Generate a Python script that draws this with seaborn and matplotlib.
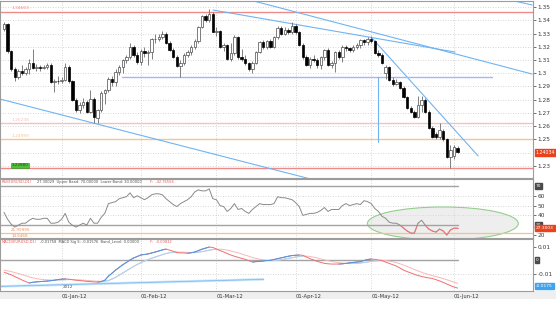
import numpy as np
import pandas as pd
import matplotlib
matplotlib.use("Agg")
import matplotlib.pyplot as plt
import seaborn as sns
from matplotlib.patches import Ellipse, Rectangle

sns.set_theme(style="white")
plt.rcParams['font.family'] = ['DejaVu Sans']

# ---------------- data ----------------
dates = pd.bdate_range("2011-12-09", "2012-06-04")

opens = [1.3335, 1.3370, 1.3165, 1.3035, 1.2975, 1.3015, 1.3000, 1.3035, 1.3075, 1.3040,
         1.3045, 1.3040, 1.3048, 1.3065, 1.2935, 1.2945, 1.2940, 1.2950, 1.3050, 1.2940,
         1.2800, 1.2720, 1.2760, 1.2785, 1.2710, 1.2805, 1.2660, 1.2720, 1.2850, 1.2870,
         1.2960, 1.2935, 1.3010, 1.3045, 1.3100, 1.3120, 1.3200, 1.3140, 1.3085, 1.3165,
         1.3150, 1.3160, 1.3255, 1.3260, 1.3275, 1.3300, 1.3230, 1.3175, 1.3125, 1.3055,
         1.3080, 1.3140, 1.3160, 1.3200, 1.3240, 1.3350, 1.3430, 1.3400, 1.3450, 1.3315,
         1.3320, 1.3200, 1.3210, 1.3110, 1.3150, 1.3270, 1.3120, 1.3105, 1.3075, 1.3030,
         1.3080, 1.3160, 1.3235, 1.3195, 1.3240, 1.3200, 1.3270, 1.3345, 1.3300, 1.3330,
         1.3310, 1.3360, 1.3310, 1.3215, 1.3120, 1.3065, 1.3110, 1.3100, 1.3065, 1.3120,
         1.3175, 1.3065, 1.3080, 1.3160, 1.3125, 1.3195, 1.3190, 1.3175, 1.3195, 1.3210,
         1.3250, 1.3235, 1.3260, 1.3240, 1.3155, 1.3140, 1.3000, 1.3045, 1.2950, 1.2920,
         1.2935, 1.2890, 1.2820, 1.2740, 1.2710, 1.2670, 1.2760, 1.2800, 1.2710, 1.2590,
         1.2545, 1.2520, 1.2565, 1.2500, 1.2370, 1.2375, 1.2437]
highs = [1.3385, 1.3378, 1.3172, 1.3045, 1.3030, 1.3060, 1.3050, 1.3110, 1.3185, 1.3070,
         1.3065, 1.3060, 1.3080, 1.3075, 1.2960, 1.2980, 1.2975, 1.3075, 1.3060, 1.2950,
         1.2810, 1.2780, 1.2810, 1.2795, 1.2875, 1.2820, 1.2730, 1.2865, 1.2880, 1.2975,
         1.2980, 1.3030, 1.3060, 1.3110, 1.3140, 1.3230, 1.3215, 1.3160, 1.3185, 1.3200,
         1.3175, 1.3265, 1.3300, 1.3295, 1.3320, 1.3310, 1.3245, 1.3190, 1.3140, 1.3100,
         1.3150, 1.3175, 1.3215, 1.3260, 1.3360, 1.3440, 1.3445, 1.3486, 1.3465, 1.3350,
         1.3330, 1.3225, 1.3220, 1.3230, 1.3285, 1.3280, 1.3180, 1.3135, 1.3085, 1.3090,
         1.3170, 1.3245, 1.3250, 1.3250, 1.3255, 1.3280, 1.3355, 1.3360, 1.3350, 1.3345,
         1.3385, 1.3370, 1.3320, 1.3225, 1.3135, 1.3120, 1.3135, 1.3115, 1.3130, 1.3185,
         1.3190, 1.3090, 1.3170, 1.3175, 1.3210, 1.3215, 1.3200, 1.3210, 1.3225, 1.3255,
         1.3260, 1.3270, 1.3282, 1.3250, 1.3175, 1.3155, 1.3060, 1.3055, 1.2975, 1.2955,
         1.2945, 1.2900, 1.2830, 1.2750, 1.2720, 1.2825, 1.2825, 1.2815, 1.2720, 1.2600,
         1.2560, 1.2625, 1.2580, 1.2510, 1.2455, 1.2460, 1.2450]
lows = [1.3320, 1.3155, 1.3020, 1.2945, 1.2960, 1.2990, 1.2985, 1.2995, 1.3030, 1.3020,
        1.3020, 1.3030, 1.3035, 1.2925, 1.2858, 1.2920, 1.2925, 1.2940, 1.2930, 1.2790,
        1.2710, 1.2700, 1.2740, 1.2700, 1.2700, 1.2625, 1.2625, 1.2710, 1.2765, 1.2860,
        1.2900, 1.2900, 1.2990, 1.3000, 1.3080, 1.3110, 1.3120, 1.3070, 1.3060, 1.3120,
        1.3060, 1.3110, 1.3230, 1.3240, 1.3260, 1.3220, 1.3165, 1.3115, 1.3045, 1.2975,
        1.3060, 1.3120, 1.3140, 1.3185, 1.3230, 1.3340, 1.3385, 1.3390, 1.3310, 1.3280,
        1.3190, 1.3170, 1.3100, 1.3090, 1.3140, 1.3105, 1.3090, 1.3060, 1.3020, 1.3000,
        1.3070, 1.3150, 1.3180, 1.3185, 1.3190, 1.3190, 1.3260, 1.3290, 1.3285, 1.3295,
        1.3300, 1.3300, 1.3205, 1.3110, 1.3055, 1.3040, 1.3085, 1.3040, 1.3035, 1.3100,
        1.3055, 1.3040, 1.3010, 1.3110, 1.3085, 1.3170, 1.3160, 1.3160, 1.3180, 1.3190,
        1.3215, 1.3215, 1.3230, 1.3145, 1.3125, 1.3070, 1.2955, 1.2940, 1.2905, 1.2910,
        1.2880, 1.2815, 1.2730, 1.2700, 1.2660, 1.2660, 1.2710, 1.2700, 1.2580, 1.2510,
        1.2505, 1.2505, 1.2490, 1.2360, 1.2287, 1.2350, 1.2395]
closes = [1.3370, 1.3165, 1.3035, 1.2975, 1.3015, 1.3000, 1.3035, 1.3075, 1.3040, 1.3045,
          1.3040, 1.3048, 1.3065, 1.2935, 1.2945, 1.2940, 1.2950, 1.3050, 1.2940, 1.2800,
          1.2720, 1.2760, 1.2785, 1.2710, 1.2805, 1.2668, 1.2720, 1.2850, 1.2870, 1.2960,
          1.2935, 1.3010, 1.3045, 1.3100, 1.3120, 1.3200, 1.3140, 1.3085, 1.3165, 1.3150,
          1.3160, 1.3255, 1.3260, 1.3275, 1.3300, 1.3230, 1.3175, 1.3125, 1.3055, 1.3080,
          1.3140, 1.3160, 1.3200, 1.3240, 1.3350, 1.3430, 1.3400, 1.3450, 1.3315, 1.3320,
          1.3200, 1.3210, 1.3110, 1.3150, 1.3270, 1.3120, 1.3105, 1.3075, 1.3030, 1.3080,
          1.3160, 1.3235, 1.3195, 1.3240, 1.3200, 1.3270, 1.3345, 1.3300, 1.3330, 1.3310,
          1.3360, 1.3310, 1.3215, 1.3120, 1.3065, 1.3110, 1.3100, 1.3065, 1.3120, 1.3175,
          1.3065, 1.3080, 1.3160, 1.3125, 1.3195, 1.3190, 1.3175, 1.3195, 1.3210, 1.3250,
          1.3235, 1.3260, 1.3240, 1.3155, 1.3140, 1.3080, 1.3045, 1.2950, 1.2920, 1.2935,
          1.2890, 1.2820, 1.2740, 1.2710, 1.2670, 1.2760, 1.2800, 1.2710, 1.2590, 1.2520,
          1.2520, 1.2570, 1.2500, 1.2370, 1.2420, 1.2440, 1.2405]
last_price_text = "1.24034"

rsi = [43, 36, 31, 28, 30, 32, 32, 35, 37, 36, 36, 37, 37, 32, 32, 33, 36, 42, 33, 30,
       28, 30, 32, 30, 37, 32, 32, 38, 42, 52, 53, 54, 57, 58, 59, 63, 58, 60, 58, 56,
       58, 61, 62, 62, 61, 57, 54, 51, 49, 52, 54, 56, 59, 64, 66, 65, 65, 67, 57, 56,
       50, 49, 44, 47, 52, 46, 47, 44, 42, 46, 49, 52, 51, 51, 51, 52, 59, 58, 58, 57,
       56, 53, 49, 40, 41, 42, 42, 43, 45, 48, 44, 46, 46, 46, 50, 52, 50, 51, 52, 51,
       55, 54, 52, 47, 44, 39, 37, 33, 32, 32, 30, 27, 24, 22, 22, 32, 35, 30, 26, 24,
       23, 26, 24, 20, 25, 27, 27]

macd_main = [-0.0090, -0.0100, -0.0110, -0.0123, -0.0135, -0.0148, -0.0160, -0.0170, -0.0165, -0.0162,
             -0.0160, -0.0158, -0.0156, -0.0153, -0.0150, -0.0145, -0.0142, -0.0140, -0.0142, -0.0146,
             -0.0150, -0.0152, -0.0155, -0.0158, -0.0160, -0.0162, -0.0163, -0.0160, -0.0150, -0.0120,
             -0.0098, -0.0075, -0.0055, -0.0035, -0.0018, 0.0000, 0.0015, 0.0026, 0.0037, 0.0041,
             0.0045, 0.0052, 0.0059, 0.0067, 0.0075, 0.0081, 0.0073, 0.0065, 0.0055, 0.0053,
             0.0052, 0.0050, 0.0054, 0.0059, 0.0070, 0.0080, 0.0088, 0.0096, 0.0093, 0.0081,
             0.0070, 0.0060, 0.0048, 0.0037, 0.0028, 0.0020, 0.0012, 0.0005, -0.0005, -0.0015,
             -0.0012, -0.0010, -0.0007, -0.0004, -0.0002, 0.0004, 0.0010, 0.0016, 0.0022, 0.0028,
             0.0033, 0.0035, 0.0037, 0.0035, 0.0022, 0.0010, 0.0000, -0.0010, -0.0018, -0.0025,
             -0.0028, -0.0030, -0.0030, -0.0030, -0.0028, -0.0025, -0.0021, -0.0018, -0.0015, -0.0012,
             -0.0004, 0.0004, 0.0007, 0.0005, 0.0000, -0.0005, -0.0015, -0.0025, -0.0035, -0.0045,
             -0.0060, -0.0075, -0.0086, -0.0096, -0.0106, -0.0115, -0.0122, -0.0128, -0.0133, -0.0137,
             -0.0146, -0.0155, -0.0166, -0.0178, -0.0190, -0.0200, -0.0208]
macd_signal = [-0.0075, -0.0080, -0.0086, -0.0093, -0.0100, -0.0108, -0.0116, -0.0125, -0.0132, -0.0138,
               -0.0142, -0.0145, -0.0147, -0.0148, -0.0148, -0.0148, -0.0147, -0.0146, -0.0145, -0.0145,
               -0.0146, -0.0147, -0.0149, -0.0151, -0.0153, -0.0155, -0.0157, -0.0158, -0.0157, -0.0152,
               -0.0141, -0.0128, -0.0112, -0.0096, -0.0080, -0.0064, -0.0048, -0.0033, -0.0020, -0.0008,
               0.0003, 0.0013, 0.0022, 0.0031, 0.0040, 0.0048, 0.0054, 0.0058, 0.0059, 0.0059,
               0.0058, 0.0056, 0.0055, 0.0055, 0.0058, 0.0062, 0.0067, 0.0073, 0.0077, 0.0080,
               0.0080, 0.0078, 0.0073, 0.0067, 0.0060, 0.0053, 0.0045, 0.0036, 0.0028, 0.0019,
               0.0012, 0.0006, 0.0001, -0.0002, -0.0004, -0.0004, -0.0002, 0.0002, 0.0007, 0.0012,
               0.0017, 0.0022, 0.0026, 0.0029, 0.0029, 0.0026, 0.0021, 0.0015, 0.0008, 0.0001,
               -0.0005, -0.0011, -0.0016, -0.0020, -0.0023, -0.0025, -0.0026, -0.0026, -0.0024, -0.0022,
               -0.0019, -0.0015, -0.0011, -0.0007, -0.0004, -0.0003, -0.0004, -0.0008, -0.0013, -0.0020,
               -0.0028, -0.0038, -0.0048, -0.0059, -0.0070, -0.0081, -0.0091, -0.0100, -0.0108, -0.0116,
               -0.0123, -0.0130, -0.0138, -0.0146, -0.0155, -0.0164, -0.0173]

month_labels = ["01-Jan-12", "01-Feb-12", "01-Mar-12", "01-Apr-12", "01-May-12", "01-Jun-12"]
price_ticks = [1.35, 1.34, 1.33, 1.32, 1.31, 1.30, 1.29, 1.28, 1.27, 1.26, 1.25, 1.23]

# horizontal price levels: (price, colour, label)
levels = [(1.3466, "#ef8a86", "1.34663"), (1.2625, "#f3c2c0", "1.26238"),
          (1.2500, "#f6c48e", "1.24999"), (1.2287, "#ef8a86", "1.22880")]

# trend lines, anchored as (bar number, price) pairs
trend_lines = [
    [(-1.2, 1.2806), (85.0, 1.2203)],
    [(58.1, 1.3477), (125.3, 1.3160)],
    [(68.3, 1.3553), (146.7, 1.2994)],
    [(102.2, 1.3266), (131.7, 1.2376)],
    [(140.6, 1.3553), (146.7, 1.3515)],
]
support_price = 1.2973
support_span = (32.8, 135.6)
drop_marker = (103.9, 1.2973, 1.2481)
macd_trend = [(-1.2, -0.01956), (72.2, -0.01430)]

# ---------------- layout ----------------
W, H = 556, 332
fig = plt.figure(figsize=(W / 100, H / 100), dpi=100)
fig.patch.set_facecolor("white")


def frame(x0, y0, x1, y1):
    return [x0 / W, 1 - y1 / H, (x1 - x0) / W, (y1 - y0) / H]


ax_p = fig.add_axes(frame(0, 1, 533, 178))
ax_r = fig.add_axes(frame(0, 179, 533, 238), sharex=ax_p)
ax_m = fig.add_axes(frame(0, 239, 533, 291), sharex=ax_p)
PW = 533.0  # panel width in pixels, for placing header texts

n = len(closes)
idx = np.arange(n)
o, h, l, c = map(np.asarray, (opens, highs, lows, closes))
month_pos = [i for i in range(1, n) if dates[i].month != dates[i - 1].month]

grid_kw = dict(color="#c9c9c9", lw=0.6, ls=(0, (1, 2)), zorder=0)
for ax in (ax_p, ax_r, ax_m):
    ax.set_facecolor("white")
    for s in ax.spines.values():
        s.set_color("#9c9c9c")
        s.set_linewidth(0.8)
    ax.yaxis.tick_right()
    ax.tick_params(axis="y", labelsize=4.2, colors="#3a3a3a", length=2, width=0.5, pad=1.5, direction="out")
    for mp in month_pos:
        ax.axvline(mp, **grid_kw)

ax_p.set_xlim(-1.11, 146.94)

# ---------------- price panel ----------------
ax_p.set_ylim(1.22094, 1.35453)
ax_p.set_yticks(price_ticks)
ax_p.set_yticklabels([f"{v:.2f}".rstrip("0") for v in price_ticks])
for v in np.arange(1.23, 1.355, 0.01):
    ax_p.axhline(v, **grid_kw)

for price, col, lab in levels:
    ax_p.axhline(price, color=col, lw=1.0, zorder=1)
for price, col, lab in levels[:-1]:
    ax_p.text(2, price + 0.0009, lab, fontsize=3.2, color=col, va="bottom", ha="left")
ax_p.text(2, levels[-1][0] + 0.0004, levels[-1][2], fontsize=3.0, color="#2b4a1c", va="bottom", ha="left",
          bbox=dict(boxstyle="square,pad=0.15", fc="#4fc03a", ec="#2e8a22", lw=0.4))

line_col = "#6fb4f2"
for (x0, y0), (x1, y1) in trend_lines:
    ax_p.plot([x0, x1], [y0, y1], color=line_col, lw=0.8, zorder=2)
ax_p.plot(support_span, [support_price, support_price], color="#a9b4f6", lw=1.0, zorder=2)
ax_p.plot([drop_marker[0]] * 2, drop_marker[1:], color=line_col, lw=0.8, zorder=2)

# candlesticks
up = c >= o
body = np.maximum(np.abs(c - o), 0.00025)
ax_p.vlines(idx, l, h, color="#6b6b6b", lw=0.6, zorder=3)
ax_p.bar(idx[up], body[up], bottom=o[up], width=0.62, color="white", edgecolor="#4a4a4a", lw=0.5, zorder=4)
ax_p.bar(idx[~up], body[~up], bottom=c[~up], width=0.62, color="black", edgecolor="black", lw=0.5, zorder=4)

ax_p.annotate(last_price_text, xy=(1.0, closes[-1]),
              xycoords=("axes fraction", "data"), xytext=(2, 0), textcoords="offset points",
              fontsize=3.4, color="white", va="center", ha="left",
              bbox=dict(boxstyle="square,pad=0.2", fc="#e8431d", ec="#e8431d"))
ax_p.tick_params(axis="x", bottom=False, labelbottom=False)

# ---------------- RSI panel ----------------
ax_r.set_ylim(16.9, 77.1)
ax_r.set_yticks([60, 50, 40, 20])
ax_r.set_yticklabels(["60", "50", "40", "20"])
for v in (60, 50, 40):
    ax_r.axhline(v, **grid_kw)
ax_r.add_patch(Ellipse((121.9, 31.7), 41.9, 33.7, fc=(0.86, 0.86, 0.86, 0.45), ec="#93cf8c", lw=0.8, zorder=1))
ax_r.plot([-1.2, 126.1], [70, 70], color="#a3a3a3", lw=1.0, zorder=2)
ax_r.plot([-1.2, 126.1], [30, 30], color="#a3a3a3", lw=1.0, zorder=2)
ax_r.axhline(22, color="#f6c08a", lw=0.9, zorder=2)
rsi_df = pd.DataFrame({"bar": idx, "rsi": rsi})
sns.lineplot(data=rsi_df, x="bar", y="rsi", ax=ax_r, color="#8a8a8a", lw=0.7, zorder=3)
r = np.asarray(rsi, dtype=float)
for i in range(n - 1):
    if min(r[i], r[i + 1]) < 30 and i > 100:
        ax_r.plot([i, i + 1], [r[i], r[i + 1]], color="#f07a7a", lw=0.7, zorder=4)

hdr = dict(fontsize=2.6, va="top", ha="left")
ax_r.text(2 / PW, 0.985, "RSI(EURUSD,D1)", color="#e06060", transform=ax_r.transAxes, **hdr)
ax_r.text(37 / PW, 0.985, "27.30029  Upper Band: 70.00000  Lower Band: 30.00000",
          color="#505050", transform=ax_r.transAxes, **hdr)
ax_r.text(150 / PW, 0.985, "F:  -42.76556", color="#e06060", transform=ax_r.transAxes, **hdr)
ax_r.text(2, 22.6, "21.99995", fontsize=3.0, color="#f08a5a", va="bottom", ha="left")
ax_r.text(2, 21.0, "14.6468", fontsize=3.0, color="#f08a5a", va="top", ha="left")
for val, txt, fc in ((70, "70", "#4a4a4a"), (30, "30", "#4a4a4a"), (27.3, "27.3003", "#e8431d")):
    ax_r.annotate(txt, xy=(1.0, val), xycoords=("axes fraction", "data"), xytext=(2, 0),
                  textcoords="offset points", fontsize=3.2, color="white", va="center", ha="left",
                  bbox=dict(boxstyle="square,pad=0.2", fc=fc, ec=fc))
ax_r.tick_params(axis="x", bottom=False, labelbottom=False)
ax_r.set_xlabel("")
ax_r.set_ylabel("")

# ---------------- MACD panel ----------------
ax_m.set_ylim(-0.02296, 0.01556)
ax_m.set_yticks([0.01, -0.01])
ax_m.set_yticklabels(["0.01", "-0.01"])
ax_m.axhline(-0.01, **grid_kw)
ax_m.plot([-1.2, 126.1], [0, 0], color="#a3a3a3", lw=1.0, zorder=2)
ax_m.plot(*zip(*macd_trend), color="#c4e4fa", lw=1.8, zorder=2, solid_capstyle="butt")
ax_m.plot(*zip(*macd_trend), color="#7ab4f0", lw=0.5, zorder=2)

macd_df = pd.DataFrame({"bar": idx, "main": macd_main, "signal": macd_signal})
sns.lineplot(data=macd_df, x="bar", y="signal", ax=ax_m, color="#f6b9b9", lw=0.7, zorder=3)
sns.lineplot(data=macd_df, x="bar", y="main", ax=ax_m, color="#f07070", lw=0.7, zorder=4)
ms = np.asarray(macd_signal)
mm = np.asarray(macd_main)
for i in range(n - 1):
    if ms[i + 1] > ms[i]:
        ax_m.plot([i, i + 1], [ms[i], ms[i + 1]], color="#a8d6f7", lw=0.7, zorder=3)
    if mm[i + 1] > mm[i]:
        ax_m.plot([i, i + 1], [mm[i], mm[i + 1]], color="#4a9be8", lw=0.7, zorder=4)

ax_m.text(2 / PW, 0.985, "MACD(EURUSD,D1)", color="#e06060", transform=ax_m.transAxes, **hdr)
ax_m.text(40 / PW, 0.985, "-0.01758  MACD Sig S: -0.01576  Band_Level: 0.00000",
          color="#505050", transform=ax_m.transAxes, **hdr)
ax_m.text(150 / PW, 0.985, "F:  -0.00832", color="#e06060", transform=ax_m.transAxes, **hdr)
ax_m.text(month_pos[0] + 0.3, -0.0215, "2012", fontsize=3.0, color="#505050", va="bottom", ha="left")
for val, txt, fc in ((0.0, "0", "#4a4a4a"), (macd_main[-1] + 0.0017, "-0.0175", "#3fa3ef")):
    ax_m.annotate(txt, xy=(1.0, val), xycoords=("axes fraction", "data"), xytext=(2, 0),
                  textcoords="offset points", fontsize=3.2, color="white", va="center", ha="left",
                  bbox=dict(boxstyle="square,pad=0.2", fc=fc, ec=fc))
ax_m.set_xticks(month_pos)
ax_m.set_xticklabels(month_labels)
ax_m.tick_params(axis="x", labelsize=3.8, colors="#3a3a3a", length=1.5, width=0.5, pad=0.5, direction="out")
for lbl in ax_m.get_xticklabels():
    lbl.set_ha("left")
ax_m.set_xlabel("")
ax_m.set_ylabel("")

# date strip under the panels
fig.patches.append(Rectangle((0, 1 - 299 / H), 1, 8 / H, transform=fig.transFigure,
                             fc="#efefef", ec="none", zorder=-1))

fig.savefig("out.png", dpi=100, facecolor="white")
